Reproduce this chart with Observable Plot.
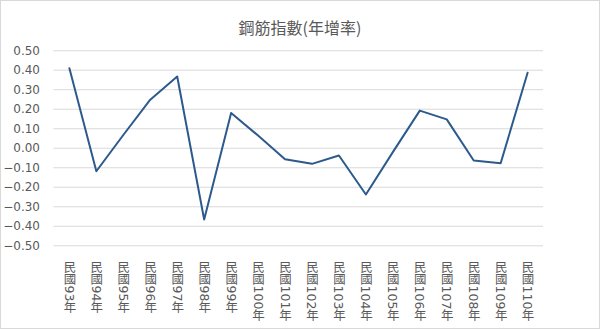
<!DOCTYPE html>
<html>
<head>
<meta charset="utf-8">
<script src="https://cdn.jsdelivr.net/npm/d3@7"></script>
<script src="https://cdn.jsdelivr.net/npm/@observablehq/plot@0.6"></script>
<style>
  html, body { margin: 0; padding: 0; background: #fff; }
  #wrap { position: relative; width: 600px; height: 329px; box-sizing: border-box; border: 1px solid #d9d9d9; overflow: hidden; }
  #title { position: absolute; left: 0; right: 0; top: 14px; text-align: center; font: 16px "Noto Sans CJK TC", sans-serif; color: #595959; }
  #chart { position: absolute; left: -1px; top: -1px; }
</style>
</head>
<body>
<div id="wrap">
  <div id="title">鋼筋指數(年增率)</div>
  <div id="chart"></div>
</div>
<script>
const years = ["民國93年","民國94年","民國95年","民國96年","民國97年","民國98年","民國99年","民國100年","民國101年","民國102年","民國103年","民國104年","民國105年","民國106年","民國107年","民國108年","民國109年","民國110年"];
const values = [0.41,-0.118,0.068,0.249,0.368,-0.365,0.181,0.065,-0.056,-0.08,-0.037,-0.237,-0.02,0.193,0.148,-0.063,-0.077,0.387];
const yTicks = [0.5,0.4,0.3,0.2,0.1,0,-0.1,-0.2,-0.3,-0.4,-0.5];

const data = years.map((y, i) => ({year: y, value: values[i]}));

const chart = Plot.plot({
  width: 600,
  height: 329,
  marginTop: 50.3,
  marginBottom: 83.3,
  marginLeft: 53.5,
  marginRight: 56,
  style: {fontFamily: "'DejaVu Sans', 'Noto Sans CJK TC', sans-serif", fontSize: "12px", color: "#595959", background: "transparent"},
  x: {type: "point", domain: years, padding: 0.5},
  y: {domain: [-0.5, 0.5]},
  marks: [
    Plot.ruleY(yTicks, {stroke: "#d9d9d9", strokeWidth: 1}),
    Plot.axisY({ticks: yTicks, tickSize: 0, tickPadding: 14, tickFormat: d3.format(".2f"), label: null, fontSize: 12}),
    Plot.axisX({tickSize: 0, tickPadding: 6, label: null, fontSize: 12.5}),
    Plot.line(data, {x: "year", y: "value", stroke: "#2d5a8c", strokeWidth: 2, strokeLinejoin: "round"})
  ]
});

d3.select(chart).selectAll("g[aria-label='x-axis tick label'] text")
  .attr("dy", null)
  .attr("text-anchor", "start")
  .style("writing-mode", "vertical-rl")
  .style("font-family", "'DejaVu Sans', 'Noto Sans CJK TC', sans-serif");
d3.select(chart).selectAll("g[aria-label='x-axis tick label']").attr("text-anchor", "start");

document.getElementById("chart").appendChild(chart);
</script>
</body>
</html>
